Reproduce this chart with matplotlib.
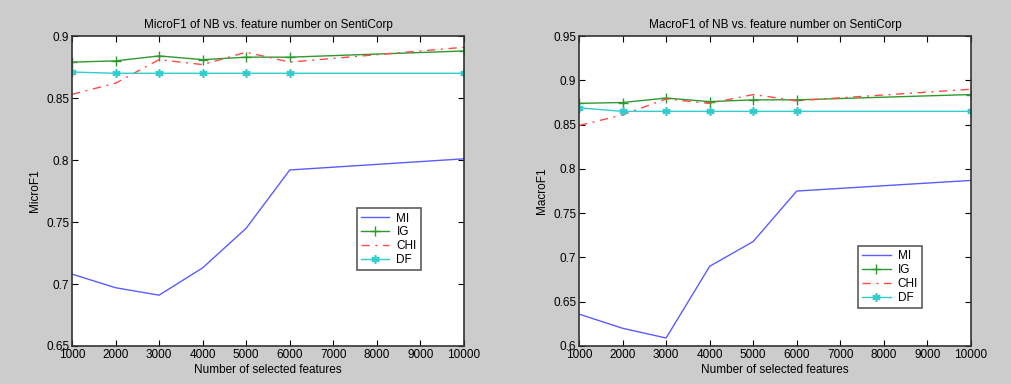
import matplotlib.pyplot as plt

plt.rcParams['font.family'] = ['Liberation Sans', 'DejaVu Sans']

features = [1000, 2000, 3000, 4000, 5000, 6000, 10000]
xticks = [1000, 2000, 3000, 4000, 5000, 6000, 7000, 8000, 9000, 10000]

# MicroF1
micro_mi = [0.708, 0.697, 0.691, 0.713, 0.745, 0.792, 0.801]
micro_ig = [0.879, 0.880, 0.884, 0.881, 0.883, 0.883, 0.888]
micro_chi = [0.853, 0.862, 0.881, 0.877, 0.887, 0.879, 0.891]
micro_df = [0.871, 0.870, 0.870, 0.870, 0.870, 0.870, 0.870]

# MacroF1
macro_mi = [0.636, 0.620, 0.609, 0.690, 0.718, 0.775, 0.787]
macro_ig = [0.874, 0.875, 0.880, 0.876, 0.878, 0.878, 0.884]
macro_chi = [0.849, 0.861, 0.879, 0.874, 0.884, 0.877, 0.890]
macro_df = [0.869, 0.865, 0.865, 0.865, 0.865, 0.865, 0.865]

BG = '#cccccc'
FS = 8.5


def panel(ax, mi, ig, chi, df, ylim, yticks, ylabel, title, leg_pos):
    ax.plot(features, mi, color='#5c5cff', lw=1, label='MI')
    ax.plot(features, ig, color='#2e9a2e', lw=1, marker='+', ms=7, mew=1, label='IG')
    ax.plot(features, chi, color='#ff4a4a', lw=1, dashes=(6, 4, 1.5, 4), label='CHI')
    ax.plot(features, df, color='#33cccc', lw=1, marker=(6, 2, 0), ms=6, mew=1.2, label='DF')
    ax.set_xlim(1000, 10000)
    ax.set_ylim(*ylim)
    ax.set_xticks(xticks)
    ax.set_xticklabels([str(t) for t in xticks], fontsize=FS)
    ax.set_yticks(yticks)
    ax.set_yticklabels(['%g' % t for t in yticks], fontsize=FS)
    ax.tick_params(direction='in', top=True, right=True, length=4, width=0.8, pad=2)
    ax.set_xlabel('Number of selected features', fontsize=FS, labelpad=2)
    ax.set_ylabel(ylabel, fontsize=FS, labelpad=4)
    ax.set_title(title, fontsize=FS, pad=6)
    for s in ax.spines.values():
        s.set_color('#333333')
        s.set_linewidth(1.2)
    leg = ax.legend(loc='lower left', bbox_to_anchor=leg_pos, fontsize=FS,
                    frameon=True, fancybox=False, handlelength=2.4,
                    borderpad=0.35, labelspacing=0.15, handletextpad=0.6,
                    borderaxespad=0)
    leg.get_frame().set_edgecolor('#333333')
    leg.get_frame().set_linewidth(1.2)


fig = plt.figure(figsize=(10.11, 3.84), dpi=100, facecolor=BG)
ax1 = fig.add_axes([0.0712, 0.099, 0.3877, 0.807])
ax2 = fig.add_axes([0.5727, 0.099, 0.3877, 0.807])

panel(ax1, micro_mi, micro_ig, micro_chi, micro_df, (0.65, 0.9),
      [0.65, 0.7, 0.75, 0.8, 0.85, 0.9], 'MicroF1',
      'MicroF1 of NB vs. feature number on SentiCorp', (0.727, 0.245))
panel(ax2, macro_mi, macro_ig, macro_chi, macro_df, (0.6, 0.95),
      [0.6, 0.65, 0.7, 0.75, 0.8, 0.85, 0.9, 0.95], 'MacroF1',
      'MacroF1 of NB vs. feature number on SentiCorp', (0.712, 0.123))

fig.savefig('out.png', dpi=100, facecolor=BG)
